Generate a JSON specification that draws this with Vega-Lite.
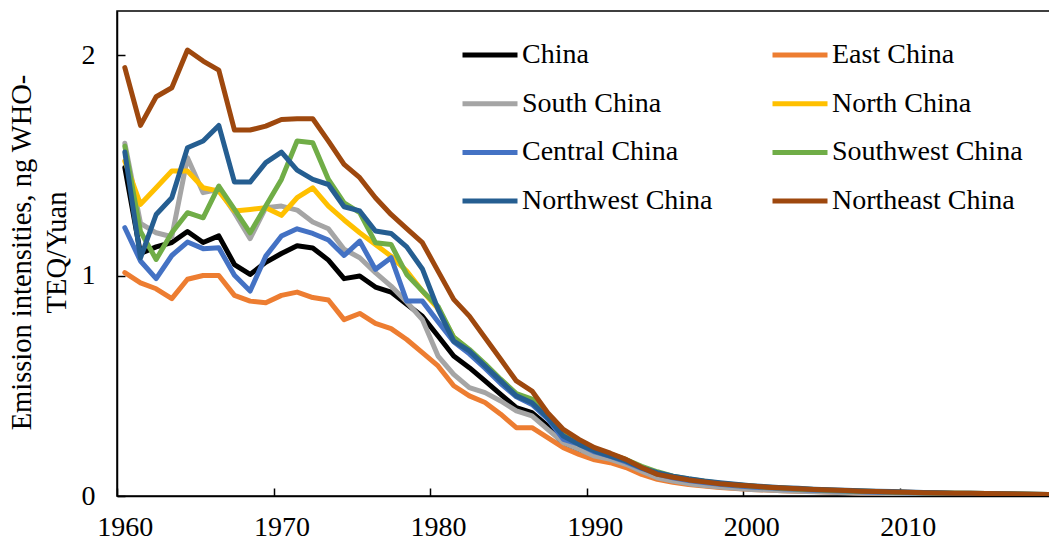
{
"$schema": "https://vega.github.io/schema/vega-lite/v6.json",
"autosize": {"type": "none"},
"width": 934,
"height": 485,
"padding": {"left": 117, "top": 11, "right": 0, "bottom": 50},
"background": "white",
"config": {
  "font": "Liberation Serif",
  "view": {"stroke": "black", "strokeWidth": 1.5},
  "style": {"guide-label": {"fontSize": 28, "font": "Liberation Serif", "fill": "black"}}
},
"data": {"values": [
{"region":"China","year":1960,"value":1.49},{"region":"China","year":1961,"value":1.10},{"region":"China","year":1962,"value":1.13},{"region":"China","year":1963,"value":1.15},{"region":"China","year":1964,"value":1.20},{"region":"China","year":1965,"value":1.15},{"region":"China","year":1966,"value":1.18},{"region":"China","year":1967,"value":1.05},{"region":"China","year":1968,"value":1.005},{"region":"China","year":1969,"value":1.06},
{"region":"China","year":1970,"value":1.10},{"region":"China","year":1971,"value":1.135},{"region":"China","year":1972,"value":1.125},{"region":"China","year":1973,"value":1.07},{"region":"China","year":1974,"value":0.986},{"region":"China","year":1975,"value":0.998},{"region":"China","year":1976,"value":0.948},{"region":"China","year":1977,"value":0.925},{"region":"China","year":1978,"value":0.87},{"region":"China","year":1979,"value":0.815},
{"region":"China","year":1980,"value":0.726},{"region":"China","year":1981,"value":0.635},{"region":"China","year":1982,"value":0.582},{"region":"China","year":1983,"value":0.522},{"region":"China","year":1984,"value":0.461},{"region":"China","year":1985,"value":0.401},{"region":"China","year":1986,"value":0.378},{"region":"China","year":1987,"value":0.318},{"region":"China","year":1988,"value":0.234},{"region":"China","year":1989,"value":0.197},
{"region":"China","year":1990,"value":0.174},{"region":"China","year":1991,"value":0.159},{"region":"China","year":1992,"value":0.144},{"region":"China","year":1993,"value":0.113},{"region":"China","year":1994,"value":0.091},{"region":"China","year":1995,"value":0.075},{"region":"China","year":1996,"value":0.063},{"region":"China","year":1997,"value":0.054},{"region":"China","year":1998,"value":0.047},{"region":"China","year":1999,"value":0.041},
{"region":"China","year":2000,"value":0.036},{"region":"China","year":2001,"value":0.032},{"region":"China","year":2002,"value":0.029},{"region":"China","year":2003,"value":0.026},{"region":"China","year":2004,"value":0.023},{"region":"China","year":2005,"value":0.021},{"region":"China","year":2006,"value":0.019},{"region":"China","year":2007,"value":0.017},{"region":"China","year":2008,"value":0.015},{"region":"China","year":2009,"value":0.014},
{"region":"China","year":2010,"value":0.013},{"region":"China","year":2011,"value":0.012},{"region":"China","year":2012,"value":0.011},{"region":"China","year":2013,"value":0.010},{"region":"China","year":2014,"value":0.009},{"region":"China","year":2015,"value":0.008},{"region":"China","year":2016,"value":0.007},{"region":"China","year":2017,"value":0.007},{"region":"China","year":2018,"value":0.006},{"region":"China","year":2019,"value":0.005},

{"region":"East China","year":1960,"value":1.013},{"region":"East China","year":1961,"value":0.967},{"region":"East China","year":1962,"value":0.94},{"region":"East China","year":1963,"value":0.895},{"region":"East China","year":1964,"value":0.983},{"region":"East China","year":1965,"value":1.0},{"region":"East China","year":1966,"value":1.0},{"region":"East China","year":1967,"value":0.91},{"region":"East China","year":1968,"value":0.884},{"region":"East China","year":1969,"value":0.877},
{"region":"East China","year":1970,"value":0.91},{"region":"East China","year":1971,"value":0.925},{"region":"East China","year":1972,"value":0.90},{"region":"East China","year":1973,"value":0.889},{"region":"East China","year":1974,"value":0.80},{"region":"East China","year":1975,"value":0.828},{"region":"East China","year":1976,"value":0.783},{"region":"East China","year":1977,"value":0.759},{"region":"East China","year":1978,"value":0.71},{"region":"East China","year":1979,"value":0.65},
{"region":"East China","year":1980,"value":0.59},{"region":"East China","year":1981,"value":0.50},{"region":"East China","year":1982,"value":0.454},{"region":"East China","year":1983,"value":0.424},{"region":"East China","year":1984,"value":0.371},{"region":"East China","year":1985,"value":0.31},{"region":"East China","year":1986,"value":0.31},{"region":"East China","year":1987,"value":0.265},{"region":"East China","year":1988,"value":0.219},{"region":"East China","year":1989,"value":0.189},
{"region":"East China","year":1990,"value":0.164},{"region":"East China","year":1991,"value":0.151},{"region":"East China","year":1992,"value":0.129},{"region":"East China","year":1993,"value":0.098},{"region":"East China","year":1994,"value":0.076},{"region":"East China","year":1995,"value":0.062},{"region":"East China","year":1996,"value":0.052},{"region":"East China","year":1997,"value":0.045},{"region":"East China","year":1998,"value":0.039},{"region":"East China","year":1999,"value":0.034},
{"region":"East China","year":2000,"value":0.030},{"region":"East China","year":2001,"value":0.027},{"region":"East China","year":2002,"value":0.024},{"region":"East China","year":2003,"value":0.022},{"region":"East China","year":2004,"value":0.020},{"region":"East China","year":2005,"value":0.018},{"region":"East China","year":2006,"value":0.016},{"region":"East China","year":2007,"value":0.014},{"region":"East China","year":2008,"value":0.013},{"region":"East China","year":2009,"value":0.012},
{"region":"East China","year":2010,"value":0.011},{"region":"East China","year":2011,"value":0.010},{"region":"East China","year":2012,"value":0.009},{"region":"East China","year":2013,"value":0.008},{"region":"East China","year":2014,"value":0.007},{"region":"East China","year":2015,"value":0.007},{"region":"East China","year":2016,"value":0.006},{"region":"East China","year":2017,"value":0.005},{"region":"East China","year":2018,"value":0.005},{"region":"East China","year":2019,"value":0.004},

{"region":"South China","year":1960,"value":1.60},{"region":"South China","year":1961,"value":1.237},{"region":"South China","year":1962,"value":1.194},{"region":"South China","year":1963,"value":1.176},{"region":"South China","year":1964,"value":1.534},{"region":"South China","year":1965,"value":1.376},{"region":"South China","year":1966,"value":1.391},{"region":"South China","year":1967,"value":1.285},{"region":"South China","year":1968,"value":1.167},{"region":"South China","year":1969,"value":1.308},
{"region":"South China","year":1970,"value":1.315},{"region":"South China","year":1971,"value":1.297},{"region":"South China","year":1972,"value":1.243},{"region":"South China","year":1973,"value":1.212},{"region":"South China","year":1974,"value":1.119},{"region":"South China","year":1975,"value":1.081},{"region":"South China","year":1976,"value":1.013},{"region":"South China","year":1977,"value":0.952},{"region":"South China","year":1978,"value":0.88},{"region":"South China","year":1979,"value":0.80},
{"region":"South China","year":1980,"value":0.635},{"region":"South China","year":1981,"value":0.552},{"region":"South China","year":1982,"value":0.492},{"region":"South China","year":1983,"value":0.469},{"region":"South China","year":1984,"value":0.431},{"region":"South China","year":1985,"value":0.386},{"region":"South China","year":1986,"value":0.363},{"region":"South China","year":1987,"value":0.302},{"region":"South China","year":1988,"value":0.242},{"region":"South China","year":1989,"value":0.212},
{"region":"South China","year":1990,"value":0.181},{"region":"South China","year":1991,"value":0.166},{"region":"South China","year":1992,"value":0.144},{"region":"South China","year":1993,"value":0.113},{"region":"South China","year":1994,"value":0.083},{"region":"South China","year":1995,"value":0.068},{"region":"South China","year":1996,"value":0.056},{"region":"South China","year":1997,"value":0.048},{"region":"South China","year":1998,"value":0.041},{"region":"South China","year":1999,"value":0.035},
{"region":"South China","year":2000,"value":0.030},{"region":"South China","year":2001,"value":0.027},{"region":"South China","year":2002,"value":0.024},{"region":"South China","year":2003,"value":0.021},{"region":"South China","year":2004,"value":0.019},{"region":"South China","year":2005,"value":0.017},{"region":"South China","year":2006,"value":0.015},{"region":"South China","year":2007,"value":0.013},{"region":"South China","year":2008,"value":0.012},{"region":"South China","year":2009,"value":0.011},
{"region":"South China","year":2010,"value":0.010},{"region":"South China","year":2011,"value":0.009},{"region":"South China","year":2012,"value":0.008},{"region":"South China","year":2013,"value":0.007},{"region":"South China","year":2014,"value":0.007},{"region":"South China","year":2015,"value":0.006},{"region":"South China","year":2016,"value":0.005},{"region":"South China","year":2017,"value":0.005},{"region":"South China","year":2018,"value":0.004},{"region":"South China","year":2019,"value":0.004},

{"region":"North China","year":1960,"value":1.519},{"region":"North China","year":1961,"value":1.323},{"region":"North China","year":1962,"value":1.398},{"region":"North China","year":1963,"value":1.474},{"region":"North China","year":1964,"value":1.474},{"region":"North China","year":1965,"value":1.398},{"region":"North China","year":1966,"value":1.383},{"region":"North China","year":1967,"value":1.293},{"region":"North China","year":1968,"value":1.30},{"region":"North China","year":1969,"value":1.308},
{"region":"North China","year":1970,"value":1.273},{"region":"North China","year":1971,"value":1.353},{"region":"North China","year":1972,"value":1.398},{"region":"North China","year":1973,"value":1.315},{"region":"North China","year":1974,"value":1.252},{"region":"North China","year":1975,"value":1.194},{"region":"North China","year":1976,"value":1.141},{"region":"North China","year":1977,"value":1.088},{"region":"North China","year":1978,"value":1.02},{"region":"North China","year":1979,"value":0.93},
{"region":"North China","year":1980,"value":0.85},{"region":"North China","year":1981,"value":0.72},{"region":"North China","year":1982,"value":0.66},{"region":"North China","year":1983,"value":0.59},{"region":"North China","year":1984,"value":0.52},{"region":"North China","year":1985,"value":0.46},{"region":"North China","year":1986,"value":0.43},{"region":"North China","year":1987,"value":0.36},{"region":"North China","year":1988,"value":0.29},{"region":"North China","year":1989,"value":0.25},
{"region":"North China","year":1990,"value":0.21},{"region":"North China","year":1991,"value":0.19},{"region":"North China","year":1992,"value":0.165},{"region":"North China","year":1993,"value":0.13},{"region":"North China","year":1994,"value":0.105},{"region":"North China","year":1995,"value":0.088},{"region":"North China","year":1996,"value":0.075},{"region":"North China","year":1997,"value":0.065},{"region":"North China","year":1998,"value":0.057},{"region":"North China","year":1999,"value":0.050},
{"region":"North China","year":2000,"value":0.044},{"region":"North China","year":2001,"value":0.039},{"region":"North China","year":2002,"value":0.035},{"region":"North China","year":2003,"value":0.031},{"region":"North China","year":2004,"value":0.028},{"region":"North China","year":2005,"value":0.025},{"region":"North China","year":2006,"value":0.023},{"region":"North China","year":2007,"value":0.021},{"region":"North China","year":2008,"value":0.019},{"region":"North China","year":2009,"value":0.017},
{"region":"North China","year":2010,"value":0.016},{"region":"North China","year":2011,"value":0.014},{"region":"North China","year":2012,"value":0.013},{"region":"North China","year":2013,"value":0.012},{"region":"North China","year":2014,"value":0.011},{"region":"North China","year":2015,"value":0.010},{"region":"North China","year":2016,"value":0.009},{"region":"North China","year":2017,"value":0.008},{"region":"North China","year":2018,"value":0.007},{"region":"North China","year":2019,"value":0.006},

{"region":"Central China","year":1960,"value":1.217},{"region":"Central China","year":1961,"value":1.066},{"region":"Central China","year":1962,"value":0.986},{"region":"Central China","year":1963,"value":1.091},{"region":"Central China","year":1964,"value":1.152},{"region":"Central China","year":1965,"value":1.122},{"region":"Central China","year":1966,"value":1.126},{"region":"Central China","year":1967,"value":1.001},{"region":"Central China","year":1968,"value":0.93},{"region":"Central China","year":1969,"value":1.088},
{"region":"Central China","year":1970,"value":1.179},{"region":"Central China","year":1971,"value":1.212},{"region":"Central China","year":1972,"value":1.191},{"region":"Central China","year":1973,"value":1.161},{"region":"Central China","year":1974,"value":1.091},{"region":"Central China","year":1975,"value":1.156},{"region":"Central China","year":1976,"value":1.028},{"region":"Central China","year":1977,"value":1.081},{"region":"Central China","year":1978,"value":0.884},{"region":"Central China","year":1979,"value":0.884},
{"region":"Central China","year":1980,"value":0.79},{"region":"Central China","year":1981,"value":0.70},{"region":"Central China","year":1982,"value":0.645},{"region":"Central China","year":1983,"value":0.58},{"region":"Central China","year":1984,"value":0.51},{"region":"Central China","year":1985,"value":0.45},{"region":"Central China","year":1986,"value":0.415},{"region":"Central China","year":1987,"value":0.35},{"region":"Central China","year":1988,"value":0.257},{"region":"Central China","year":1989,"value":0.235},
{"region":"Central China","year":1990,"value":0.20},{"region":"Central China","year":1991,"value":0.18},{"region":"Central China","year":1992,"value":0.155},{"region":"Central China","year":1993,"value":0.125},{"region":"Central China","year":1994,"value":0.10},{"region":"Central China","year":1995,"value":0.083},{"region":"Central China","year":1996,"value":0.070},{"region":"Central China","year":1997,"value":0.061},{"region":"Central China","year":1998,"value":0.053},{"region":"Central China","year":1999,"value":0.047},
{"region":"Central China","year":2000,"value":0.041},{"region":"Central China","year":2001,"value":0.037},{"region":"Central China","year":2002,"value":0.033},{"region":"Central China","year":2003,"value":0.029},{"region":"Central China","year":2004,"value":0.026},{"region":"Central China","year":2005,"value":0.024},{"region":"Central China","year":2006,"value":0.021},{"region":"Central China","year":2007,"value":0.019},{"region":"Central China","year":2008,"value":0.017},{"region":"Central China","year":2009,"value":0.016},
{"region":"Central China","year":2010,"value":0.015},{"region":"Central China","year":2011,"value":0.013},{"region":"Central China","year":2012,"value":0.012},{"region":"Central China","year":2013,"value":0.011},{"region":"Central China","year":2014,"value":0.010},{"region":"Central China","year":2015,"value":0.009},{"region":"Central China","year":2016,"value":0.008},{"region":"Central China","year":2017,"value":0.007},{"region":"Central China","year":2018,"value":0.006},{"region":"Central China","year":2019,"value":0.006},

{"region":"Southwest China","year":1960,"value":1.587},{"region":"Southwest China","year":1961,"value":1.2},{"region":"Southwest China","year":1962,"value":1.073},{"region":"Southwest China","year":1963,"value":1.194},{"region":"Southwest China","year":1964,"value":1.285},{"region":"Southwest China","year":1965,"value":1.262},{"region":"Southwest China","year":1966,"value":1.406},{"region":"Southwest China","year":1967,"value":1.30},{"region":"Southwest China","year":1968,"value":1.194},{"region":"Southwest China","year":1969,"value":1.315},
{"region":"Southwest China","year":1970,"value":1.436},{"region":"Southwest China","year":1971,"value":1.61},{"region":"Southwest China","year":1972,"value":1.602},{"region":"Southwest China","year":1973,"value":1.436},{"region":"Southwest China","year":1974,"value":1.33},{"region":"Southwest China","year":1975,"value":1.285},{"region":"Southwest China","year":1976,"value":1.149},{"region":"Southwest China","year":1977,"value":1.141},{"region":"Southwest China","year":1978,"value":1.005},{"region":"Southwest China","year":1979,"value":0.93},
{"region":"Southwest China","year":1980,"value":0.86},{"region":"Southwest China","year":1981,"value":0.72},{"region":"Southwest China","year":1982,"value":0.665},{"region":"Southwest China","year":1983,"value":0.60},{"region":"Southwest China","year":1984,"value":0.53},{"region":"Southwest China","year":1985,"value":0.465},{"region":"Southwest China","year":1986,"value":0.44},{"region":"Southwest China","year":1987,"value":0.365},{"region":"Southwest China","year":1988,"value":0.285},{"region":"Southwest China","year":1989,"value":0.245},
{"region":"Southwest China","year":1990,"value":0.21},{"region":"Southwest China","year":1991,"value":0.19},{"region":"Southwest China","year":1992,"value":0.165},{"region":"Southwest China","year":1993,"value":0.135},{"region":"Southwest China","year":1994,"value":0.11},{"region":"Southwest China","year":1995,"value":0.09},{"region":"Southwest China","year":1996,"value":0.077},{"region":"Southwest China","year":1997,"value":0.067},{"region":"Southwest China","year":1998,"value":0.058},{"region":"Southwest China","year":1999,"value":0.051},
{"region":"Southwest China","year":2000,"value":0.045},{"region":"Southwest China","year":2001,"value":0.040},{"region":"Southwest China","year":2002,"value":0.036},{"region":"Southwest China","year":2003,"value":0.032},{"region":"Southwest China","year":2004,"value":0.029},{"region":"Southwest China","year":2005,"value":0.026},{"region":"Southwest China","year":2006,"value":0.024},{"region":"Southwest China","year":2007,"value":0.022},{"region":"Southwest China","year":2008,"value":0.020},{"region":"Southwest China","year":2009,"value":0.018},
{"region":"Southwest China","year":2010,"value":0.016},{"region":"Southwest China","year":2011,"value":0.015},{"region":"Southwest China","year":2012,"value":0.014},{"region":"Southwest China","year":2013,"value":0.013},{"region":"Southwest China","year":2014,"value":0.012},{"region":"Southwest China","year":2015,"value":0.011},{"region":"Southwest China","year":2016,"value":0.010},{"region":"Southwest China","year":2017,"value":0.009},{"region":"Southwest China","year":2018,"value":0.008},{"region":"Southwest China","year":2019,"value":0.007},

{"region":"Northwest China","year":1960,"value":1.56},{"region":"Northwest China","year":1961,"value":1.08},{"region":"Northwest China","year":1962,"value":1.277},{"region":"Northwest China","year":1963,"value":1.353},{"region":"Northwest China","year":1964,"value":1.58},{"region":"Northwest China","year":1965,"value":1.61},{"region":"Northwest China","year":1966,"value":1.681},{"region":"Northwest China","year":1967,"value":1.424},{"region":"Northwest China","year":1968,"value":1.424},{"region":"Northwest China","year":1969,"value":1.512},
{"region":"Northwest China","year":1970,"value":1.56},{"region":"Northwest China","year":1971,"value":1.478},{"region":"Northwest China","year":1972,"value":1.436},{"region":"Northwest China","year":1973,"value":1.413},{"region":"Northwest China","year":1974,"value":1.312},{"region":"Northwest China","year":1975,"value":1.293},{"region":"Northwest China","year":1976,"value":1.202},{"region":"Northwest China","year":1977,"value":1.191},{"region":"Northwest China","year":1978,"value":1.13},{"region":"Northwest China","year":1979,"value":1.03},
{"region":"Northwest China","year":1980,"value":0.847},{"region":"Northwest China","year":1981,"value":0.703},{"region":"Northwest China","year":1982,"value":0.658},{"region":"Northwest China","year":1983,"value":0.59},{"region":"Northwest China","year":1984,"value":0.522},{"region":"Northwest China","year":1985,"value":0.454},{"region":"Northwest China","year":1986,"value":0.423},{"region":"Northwest China","year":1987,"value":0.355},{"region":"Northwest China","year":1988,"value":0.272},{"region":"Northwest China","year":1989,"value":0.234},
{"region":"Northwest China","year":1990,"value":0.204},{"region":"Northwest China","year":1991,"value":0.181},{"region":"Northwest China","year":1992,"value":0.159},{"region":"Northwest China","year":1993,"value":0.128},{"region":"Northwest China","year":1994,"value":0.106},{"region":"Northwest China","year":1995,"value":0.09},{"region":"Northwest China","year":1996,"value":0.078},{"region":"Northwest China","year":1997,"value":0.068},{"region":"Northwest China","year":1998,"value":0.06},{"region":"Northwest China","year":1999,"value":0.053},
{"region":"Northwest China","year":2000,"value":0.047},{"region":"Northwest China","year":2001,"value":0.042},{"region":"Northwest China","year":2002,"value":0.038},{"region":"Northwest China","year":2003,"value":0.035},{"region":"Northwest China","year":2004,"value":0.031},{"region":"Northwest China","year":2005,"value":0.028},{"region":"Northwest China","year":2006,"value":0.026},{"region":"Northwest China","year":2007,"value":0.024},{"region":"Northwest China","year":2008,"value":0.022},{"region":"Northwest China","year":2009,"value":0.020},
{"region":"Northwest China","year":2010,"value":0.018},{"region":"Northwest China","year":2011,"value":0.016},{"region":"Northwest China","year":2012,"value":0.015},{"region":"Northwest China","year":2013,"value":0.013},{"region":"Northwest China","year":2014,"value":0.012},{"region":"Northwest China","year":2015,"value":0.011},{"region":"Northwest China","year":2016,"value":0.010},{"region":"Northwest China","year":2017,"value":0.009},{"region":"Northwest China","year":2018,"value":0.008},{"region":"Northwest China","year":2019,"value":0.007},

{"region":"Northeast China","year":1960,"value":1.943},{"region":"Northeast China","year":1961,"value":1.681},{"region":"Northeast China","year":1962,"value":1.811},{"region":"Northeast China","year":1963,"value":1.852},{"region":"Northeast China","year":1964,"value":2.023},{"region":"Northeast China","year":1965,"value":1.973},{"region":"Northeast China","year":1966,"value":1.932},{"region":"Northeast China","year":1967,"value":1.66},{"region":"Northeast China","year":1968,"value":1.66},{"region":"Northeast China","year":1969,"value":1.678},
{"region":"Northeast China","year":1970,"value":1.708},{"region":"Northeast China","year":1971,"value":1.711},{"region":"Northeast China","year":1972,"value":1.711},{"region":"Northeast China","year":1973,"value":1.61},{"region":"Northeast China","year":1974,"value":1.504},{"region":"Northeast China","year":1975,"value":1.444},{"region":"Northeast China","year":1976,"value":1.353},{"region":"Northeast China","year":1977,"value":1.277},{"region":"Northeast China","year":1978,"value":1.213},{"region":"Northeast China","year":1979,"value":1.149},
{"region":"Northeast China","year":1980,"value":1.02},{"region":"Northeast China","year":1981,"value":0.892},{"region":"Northeast China","year":1982,"value":0.816},{"region":"Northeast China","year":1983,"value":0.718},{"region":"Northeast China","year":1984,"value":0.62},{"region":"Northeast China","year":1985,"value":0.522},{"region":"Northeast China","year":1986,"value":0.476},{"region":"Northeast China","year":1987,"value":0.378},{"region":"Northeast China","year":1988,"value":0.302},{"region":"Northeast China","year":1989,"value":0.257},
{"region":"Northeast China","year":1990,"value":0.219},{"region":"Northeast China","year":1991,"value":0.194},{"region":"Northeast China","year":1992,"value":0.166},{"region":"Northeast China","year":1993,"value":0.129},{"region":"Northeast China","year":1994,"value":0.098},{"region":"Northeast China","year":1995,"value":0.085},{"region":"Northeast China","year":1996,"value":0.073},{"region":"Northeast China","year":1997,"value":0.064},{"region":"Northeast China","year":1998,"value":0.056},{"region":"Northeast China","year":1999,"value":0.050},
{"region":"Northeast China","year":2000,"value":0.045},{"region":"Northeast China","year":2001,"value":0.040},{"region":"Northeast China","year":2002,"value":0.036},{"region":"Northeast China","year":2003,"value":0.033},{"region":"Northeast China","year":2004,"value":0.030},{"region":"Northeast China","year":2005,"value":0.027},{"region":"Northeast China","year":2006,"value":0.025},{"region":"Northeast China","year":2007,"value":0.022},{"region":"Northeast China","year":2008,"value":0.020},{"region":"Northeast China","year":2009,"value":0.018},
{"region":"Northeast China","year":2010,"value":0.017},{"region":"Northeast China","year":2011,"value":0.015},{"region":"Northeast China","year":2012,"value":0.014},{"region":"Northeast China","year":2013,"value":0.013},{"region":"Northeast China","year":2014,"value":0.012},{"region":"Northeast China","year":2015,"value":0.011},{"region":"Northeast China","year":2016,"value":0.010},{"region":"Northeast China","year":2017,"value":0.009},{"region":"Northeast China","year":2018,"value":0.008},{"region":"Northeast China","year":2019,"value":0.007}
]},
"mark": {"type": "line", "strokeWidth": 5, "strokeJoin": "round", "strokeCap": "round", "clip": true},
"encoding": {
  "x": {"field": "year", "type": "quantitative",
        "scale": {"domain": [1959.5, 2019.14], "nice": false, "zero": false},
        "axis": {"title": null, "grid": false, "values": [1960, 1970, 1980, 1990, 2000, 2010], "format": "d",
                 "domainColor": "black", "domainWidth": 1.5, "tickColor": "black", "tickWidth": 1.5,
                 "labelColor": "black", "labelFont": "Liberation Serif", "labelFontSize": 28,
                 "labelFlush": false, "labelOverlap": false,
                 "tickSize": -8, "tickOffset": -7.83, "labelOffset": 7.83, "labelPadding": 25}},
  "y": {"field": "value", "type": "quantitative",
        "scale": {"domain": [0, 2.2], "nice": false},
        "axis": {"title": ["Emission intensities, ng WHO-", "TEQ/Yuan"], "grid": false, "values": [0, 1, 2], "format": "d",
                 "domainColor": "black", "domainWidth": 1.5, "tickColor": "black", "tickWidth": 1.5,
                 "labelColor": "black", "labelFont": "Liberation Serif", "labelFontSize": 28,
                 "labelFlush": false, "labelOverlap": false,
                 "titleColor": "black", "titleFont": "Liberation Serif", "titleFontSize": 28.5, "titleFontWeight": "normal",
                 "tickSize": -8, "labelPadding": 30, "titleAngle": -90, "titleAlign": "center", "titleBaseline": "middle",
                 "titleLineHeight": 35, "titleX": -96, "titleY": 241}},
  "color": {"field": "region", "type": "nominal",
        "scale": {"domain": ["China", "South China", "Central China", "Northwest China", "East China", "North China", "Southwest China", "Northeast China"],
                  "range": ["#000000", "#A5A5A5", "#4472C4", "#255E91", "#ED7D31", "#FFC000", "#70AD47", "#9E480E"]},
        "legend": {"title": null, "orient": "none", "legendX": 343, "legendY": 30, "columns": 2, "padding": 0,
                   "symbolType": "stroke", "symbolSize": 3025, "symbolStrokeWidth": 5, "clipHeight": 28,
                   "labelFont": "Liberation Serif", "labelFontSize": 28, "labelColor": "black", "labelOffset": 2, "labelLimit": 400,
                   "rowPadding": 20.7, "columnPadding": 57}},
  "order": {"field": "year"}
}
}
